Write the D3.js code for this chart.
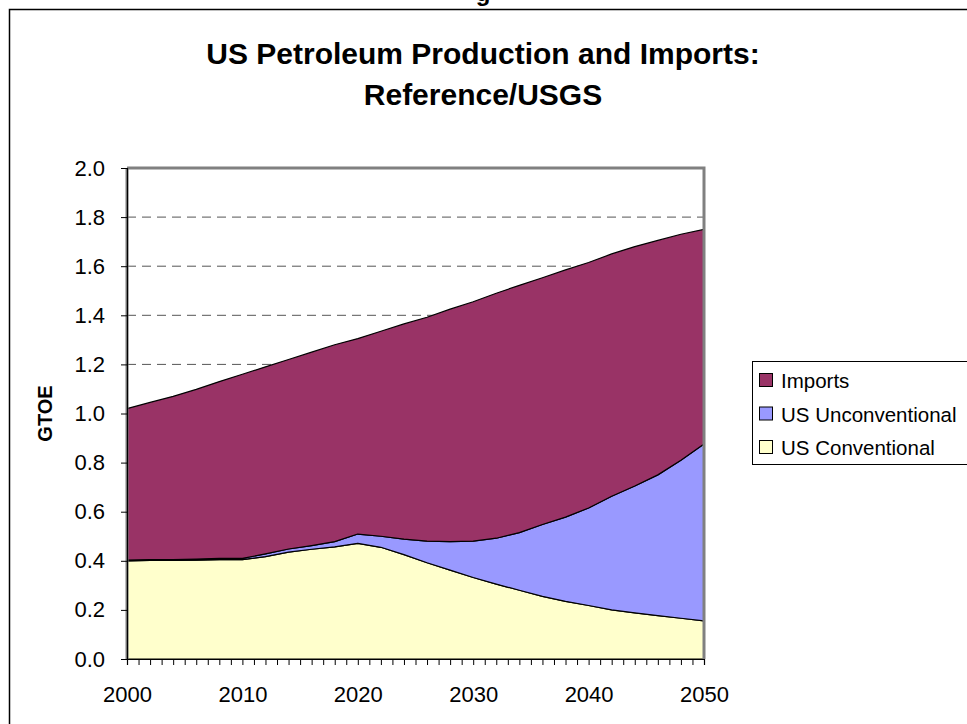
<!DOCTYPE html>
<html>
<head>
<meta charset="utf-8">
<script src="https://cdn.jsdelivr.net/npm/d3@7"></script>
<style>
  html, body { margin: 0; padding: 0; background: #fff; }
  svg { display: block; font-family: Arial, "Liberation Sans", sans-serif; }
</style>
</head>
<body>
<svg id="chart" width="967" height="724"></svg>
<script>
// data (GTOE, every 2 years)
const years = [2000, 2002, 2004, 2006, 2008, 2010, 2012, 2014, 2016, 2018, 2020, 2022, 2024,
  2026, 2028, 2030, 2032, 2034, 2036, 2038, 2040, 2042, 2044, 2046, 2048, 2050];
const usConventional = [0.400, 0.402, 0.402, 0.403, 0.405, 0.405, 0.417, 0.435, 0.447, 0.457, 0.471, 0.455, 0.425,
  0.392, 0.362, 0.332, 0.305, 0.280, 0.255, 0.235, 0.218, 0.200, 0.188, 0.177, 0.166, 0.155];
const usUnconventional = [0.003, 0.003, 0.003, 0.004, 0.005, 0.005, 0.011, 0.013, 0.015, 0.021, 0.038, 0.045, 0.063,
  0.088, 0.116, 0.148, 0.187, 0.235, 0.293, 0.343, 0.397, 0.463, 0.517, 0.573, 0.644, 0.721];
const imports = [0.617, 0.640, 0.665, 0.691, 0.720, 0.750, 0.762, 0.772, 0.788, 0.802, 0.796, 0.835, 0.877,
  0.912, 0.947, 0.975, 0.998, 1.007, 1.005, 1.007, 1.000, 0.987, 0.975, 0.955, 0.920, 0.874];

const seriesNames = ["US Conventional", "US Unconventional", "Imports"];
const seriesColors = ["#FFFFCC", "#9999FF", "#993366"];
const yTicks = [0, 0.2, 0.4, 0.6, 0.8, 1.0, 1.2, 1.4, 1.6, 1.8, 2.0];
const xLabels = [2000, 2010, 2020, 2030, 2040, 2050];
const titleLines = ["US Petroleum Production and Imports:", "Reference/USGS"];

const svg = d3.select("#chart");

// outer chart frame (runs off right and bottom)
svg.append("rect")
  .attr("x", 9.5).attr("y", 9.5)
  .attr("width", 1000).attr("height", 800)
  .attr("fill", "#fff").attr("stroke", "#000").attr("stroke-width", 1.5);

// clipped fragment of text above the frame
svg.append("text")
  .attr("x", 483).attr("y", 1)
  .attr("text-anchor", "middle")
  .attr("font-size", 24).attr("font-weight", "bold")
  .text("g");

const plot = {left: 127, top: 168, right: 704, bottom: 659};

const x = d3.scaleLinear().domain([2000, 2050]).range([plot.left, plot.right]);
const y = d3.scaleLinear().domain([0, 2]).range([plot.bottom, plot.top]);

// title
svg.append("text")
  .attr("text-anchor", "middle")
  .attr("font-size", 30).attr("font-weight", "bold")
  .selectAll("tspan")
  .data(titleLines)
  .join("tspan")
  .attr("x", 483)
  .attr("y", (d, i) => 64 + i * 41)
  .text(d => d);

// gridlines
svg.append("g")
  .selectAll("line")
  .data(yTicks.filter(d => d > 0 && d < 2))
  .join("line")
  .attr("x1", plot.left).attr("x2", plot.right)
  .attr("y1", d => y(d)).attr("y2", d => y(d))
  .attr("stroke", "#555").attr("stroke-width", 1)
  .attr("stroke-dasharray", "9,6");

// stacked areas
const table = years.map((yr, i) => ({
  year: yr,
  "US Conventional": usConventional[i],
  "US Unconventional": usUnconventional[i],
  "Imports": imports[i]
}));
const stacked = d3.stack().keys(seriesNames)(table);

const area = d3.area()
  .x(d => x(d.data.year))
  .y0(d => y(d[0]))
  .y1(d => y(d[1]));

svg.append("g")
  .selectAll("path")
  .data(stacked)
  .join("path")
  .attr("d", area)
  .attr("fill", (d, i) => seriesColors[i])
  .attr("stroke", "#000")
  .attr("stroke-width", 1.2)
  .attr("stroke-linejoin", "round");

// plot area border (grey)
svg.append("path")
  .attr("d", `M${plot.left},${plot.top}H${plot.right}V${plot.bottom}`)
  .attr("fill", "none").attr("stroke", "#808080").attr("stroke-width", 3);
svg.append("line")
  .attr("x1", plot.left).attr("x2", plot.left)
  .attr("y1", plot.top).attr("y2", plot.bottom)
  .attr("stroke", "#808080").attr("stroke-width", 3);

const tickFont = 22;

// y axis
const yAxis = svg.append("g")
  .attr("transform", `translate(${plot.left},0)`)
  .call(d3.axisLeft(y).tickValues(yTicks).tickFormat(d3.format(".1f")).tickSize(6).tickPadding(16));
yAxis.select(".domain").attr("stroke", "#000").attr("stroke-width", 1.2);
yAxis.selectAll(".tick line").attr("stroke", "#000");
yAxis.selectAll("text")
  .attr("font-size", tickFont).attr("font-family", "Arial, 'Liberation Sans', sans-serif")
  .attr("fill", "#000");

// x axis: a tick every year, labels every ten
const xAxis = svg.append("g")
  .attr("transform", `translate(0,${plot.bottom})`)
  .call(d3.axisBottom(x).tickValues(d3.range(2000, 2051)).tickSize(6)
    .tickFormat(d => xLabels.includes(d) ? d : "").tickPadding(21));
xAxis.select(".domain").attr("stroke", "#000").attr("stroke-width", 1.2);
xAxis.selectAll(".tick line").attr("stroke", "#000");
xAxis.selectAll("text")
  .attr("font-size", tickFont).attr("font-family", "Arial, 'Liberation Sans', sans-serif")
  .attr("fill", "#000");

// y axis title
svg.append("text")
  .attr("transform", `translate(52,${(plot.top + plot.bottom) / 2}) rotate(-90)`)
  .attr("text-anchor", "middle")
  .attr("font-size", 20).attr("font-weight", "bold")
  .text("GTOE");

// legend, top entry first
const legend = svg.append("g").attr("transform", "translate(752,361)");
legend.append("rect")
  .attr("x", 0.5).attr("y", 0.5)
  .attr("width", 300).attr("height", 103)
  .attr("fill", "#fff").attr("stroke", "#000").attr("stroke-width", 1);

const legendItems = seriesNames.map((name, i) => ({name, color: seriesColors[i]})).reverse();
const item = legend.selectAll("g.item")
  .data(legendItems)
  .join("g")
  .attr("class", "item")
  .attr("transform", (d, i) => `translate(0,${19 + i * 33.5})`);
item.append("rect")
  .attr("x", 7.5).attr("y", -6.5)
  .attr("width", 13).attr("height", 13)
  .attr("fill", d => d.color).attr("stroke", "#000").attr("stroke-width", 1);
item.append("text")
  .attr("x", 29).attr("y", 8)
  .attr("font-size", 20.5)
  .text(d => d.name);
</script>
</body>
</html>
